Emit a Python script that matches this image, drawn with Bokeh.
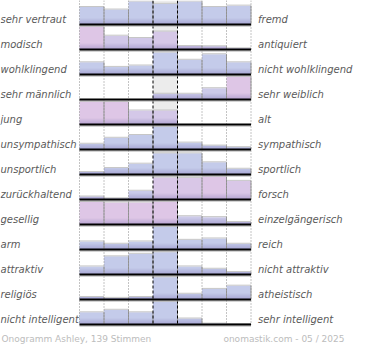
from bokeh.plotting import figure
from bokeh.models import Range1d, ColumnDataSource
from bokeh.core.properties import value
from bokeh.embed import file_html
from bokeh.resources import INLINE

left_labels = ["sehr vertraut", "modisch", "wohlklingend", "sehr männlich", "jung",
               "unsympathisch", "unsportlich", "zurückhaltend", "gesellig", "arm",
               "attraktiv", "religiös", "nicht intelligent"]
right_labels = ["fremd", "antiquiert", "nicht wohlklingend", "sehr weiblich", "alt",
                "sympathisch", "sportlich", "forsch", "einzelgängerisch", "reich",
                "nicht attraktiv", "atheistisch", "sehr intelligent"]

# relative vote share per scale step (row max = 100)
bar_values = [
    [76, 65, 100, 90, 100, 76, 82],
    [100, 60, 50, 78, 15, 14, 5],
    [53, 33, 39, 96, 64, 88, 53],
    [0, 0, 0, 25, 25, 49, 100],
    [100, 98, 61, 61, 0, 0, 0],
    [25, 51, 63, 100, 30, 17, 10],
    [11, 28, 47, 92, 92, 53, 25],
    [13, 5, 38, 96, 94, 100, 81],
    [98, 96, 96, 100, 36, 32, 11],
    [35, 25, 35, 100, 42, 48, 25],
    [35, 79, 90, 97, 35, 25, 11],
    [11, 7, 11, 97, 25, 46, 60],
    [53, 64, 53, 100, 26, 4, 2],
]
# share of female voters (tints the bar)
female_share = [
    [0, 0, 0, 0, 0, 0, 0],
    [1, 0.5, 0.5, 0.7, 0.5, 0.5, 0.5],
    [0, 0, 0, 0, 0, 0, 0],
    [0, 0, 0, 0.3, 0.3, 0.3, 1],
    [1, 1, 0.6, 0.6, 0, 0, 0],
    [0, 0, 0, 0, 0, 0, 0],
    [0, 0, 0, 0, 0, 0, 0],
    [0.3, 0.3, 0.2, 0.8, 0.8, 1, 0.8],
    [1, 1, 1, 1, 0.3, 0.3, 0.3],
    [0, 0, 0, 0, 0, 0, 0],
    [0, 0, 0, 0, 0, 0, 0],
    [0, 0, 0, 0, 0, 0, 0],
    [0, 0, 0, 0, 0, 0, 0],
]
footer_left = "Onogramm Ashley, 139 Stimmen"
footer_right = "onomastik.com - 05 / 2025"

W, H = 354, 344
X0, CW = 79.0, 24.5
FIRST_BASE, PITCH, FULL = 24.0, 25.0, 23.0
n_rows = len(left_labels)
last_base = FIRST_BASE + PITCH * (n_rows - 1)

p = figure(width=W, height=H, output_backend="svg", toolbar_location=None,
           x_range=Range1d(0, W), y_range=Range1d(H, 0), min_border=0,
           outline_line_color=None, background_fill_color="white")
p.axis.visible = False
p.grid.visible = False

BLUE = (196, 203, 234)
PINK = (222, 198, 230)


def mix(share):
    c = [round(BLUE[i] + (PINK[i] - BLUE[i]) * share) for i in range(3)]
    return "#%02x%02x%02x" % tuple(c)


# middle column background
p.quad(left=[X0 + 3 * CW], right=[X0 + 4 * CW], top=[0], bottom=[last_base],
       fill_color="#ececec", line_color=None)

L, R, T, B, C = [], [], [], [], []
for r in range(n_rows):
    base = FIRST_BASE + PITCH * r
    for c in range(7):
        v = bar_values[r][c]
        if v <= 0:
            continue
        h = FULL * v / 100.0
        L.append(X0 + c * CW)
        R.append(X0 + (c + 1) * CW)
        T.append(base - h)
        B.append(base)
        C.append(mix(female_share[r][c]))
src = ColumnDataSource(dict(left=L, right=R, top=T, bottom=B, color=C))
p.quad(left="left", right="right", top="top", bottom="bottom", source=src,
       fill_color="color", line_color=None)

# darker gradient towards the bottom of the bars
for k in range(1, 7):
    d = k * 1.0
    tops = [max(t, b - d) for t, b in zip(T, B)]
    p.quad(left=L, right=R, top=tops, bottom=B, fill_color="#7d70b8",
           fill_alpha=0.07, line_color=None)

# top shadow and right edge of each bar
p.segment(x0=L, x1=R, y0=[t - 0.5 for t in T], y1=[t - 0.5 for t in T],
          line_color="#c6c6c6", line_width=1)
p.segment(x0=R, x1=R, y0=T, y1=B, line_color="#9a9a9a", line_width=1)

# vertical guides
for i in range(8):
    x = X0 + i * CW
    if i in (3, 4):
        p.segment(x0=[x], x1=[x], y0=[0], y1=[last_base], line_color="black",
                  line_width=1, line_dash="3 2")
    else:
        p.segment(x0=[x], x1=[x], y0=[0], y1=[last_base], line_color="#888888",
                  line_width=1, line_dash="1 2")

# baselines
bases = [FIRST_BASE + PITCH * r for r in range(n_rows)]
p.segment(x0=[X0] * n_rows, x1=[X0 + 7 * CW] * n_rows,
          y0=[b + 1.5 for b in bases], y1=[b + 1.5 for b in bases],
          line_color="#aaaaaa", line_width=1)
p.segment(x0=[X0] * n_rows, x1=[X0 + 7 * CW] * n_rows, y0=bases, y1=bases,
          line_color="black", line_width=2)

ly = [b - 5 for b in bases]
p.text(x=[0] * n_rows, y=ly, text=left_labels, text_font=value("DejaVu Sans"),
       text_font_size="10px", text_font_style="italic", text_color="#5a5a5a",
       text_align="left", text_baseline="middle")
p.text(x=[X0 + 7 * CW + 7] * n_rows, y=ly, text=right_labels,
       text_font=value("DejaVu Sans"), text_font_size="10px",
       text_font_style="italic", text_color="#5a5a5a",
       text_align="left", text_baseline="middle")

fy = last_base + 14
p.text(x=[1], y=[fy], text=[footer_left], text_font=value("DejaVu Sans"),
       text_font_size="9px", text_color="#bcbcbc", text_align="left",
       text_baseline="middle")
p.text(x=[W - 10], y=[fy], text=[footer_right], text_font=value("DejaVu Sans"),
       text_font_size="9px", text_color="#bcbcbc", text_align="right",
       text_baseline="middle")

open("out.html", "w").write(file_html(p, INLINE))
